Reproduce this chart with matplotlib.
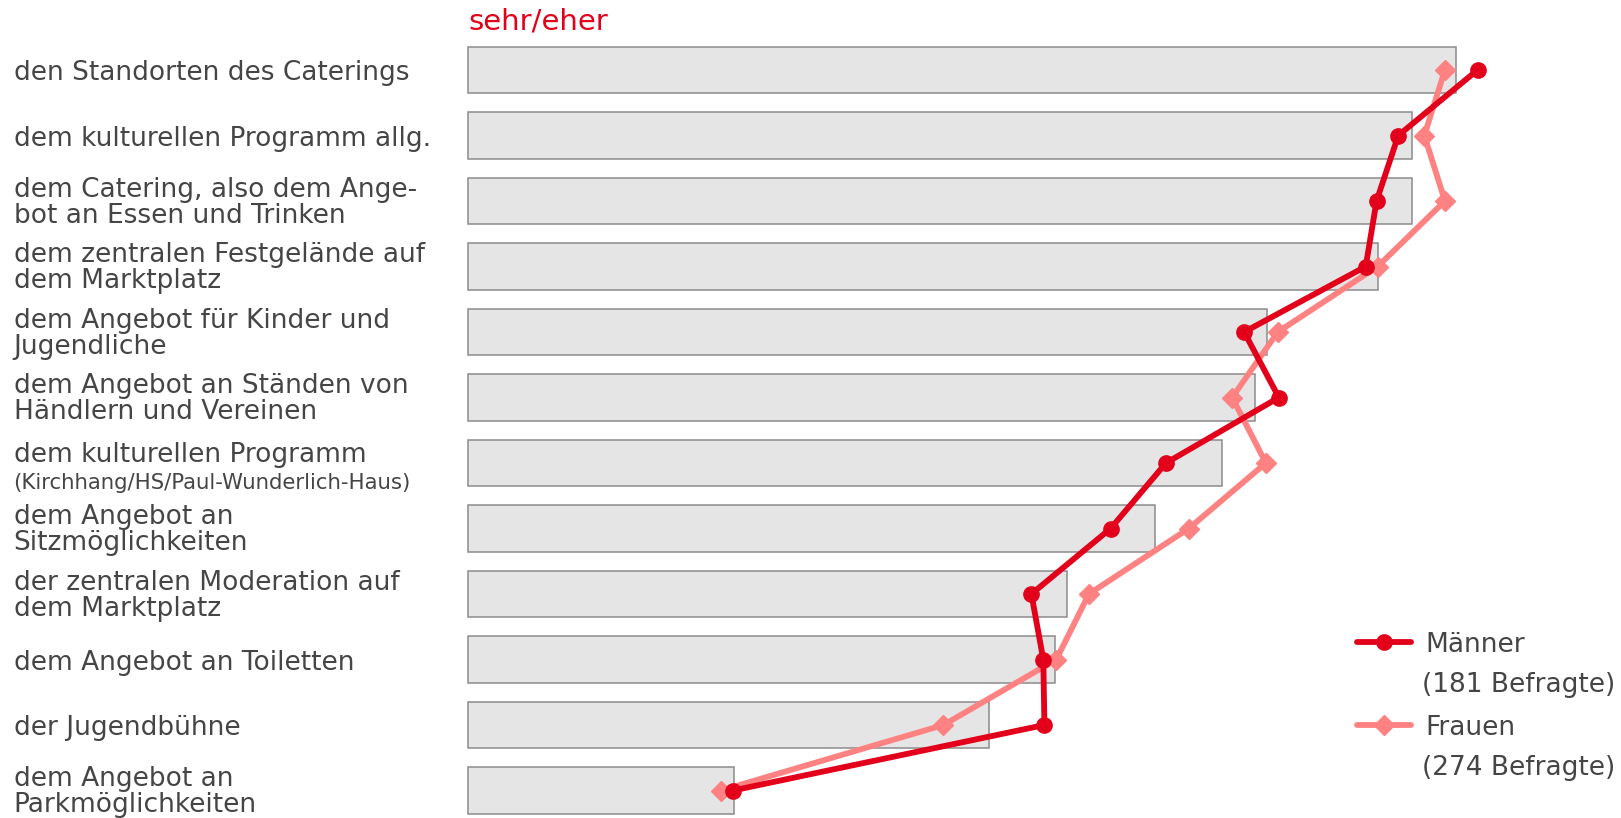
import matplotlib
matplotlib.use("Agg")
import matplotlib.pyplot as plt
from matplotlib.lines import Line2D
import matplotlib.transforms as mtransforms

categories = [
    "den Standorten des Caterings",
    "dem kulturellen Programm allg.",
    "dem Catering, also dem Ange-\nbot an Essen und Trinken",
    "dem zentralen Festgelände auf\ndem Marktplatz",
    "dem Angebot für Kinder und\nJugendliche",
    "dem Angebot an Ständen von\nHändlern und Vereinen",
    "dem kulturellen Programm",
    "dem Angebot an\nSitzmöglichkeiten",
    "der zentralen Moderation auf\ndem Marktplatz",
    "dem Angebot an Toiletten",
    "der Jugendbühne",
    "dem Angebot an\nParkmöglichkeiten",
]
sub_label = "(Kirchhang/HS/Paul-Wunderlich-Haus)"
sub_label_row = 6

total = [91.0, 87.0, 87.0, 83.8, 73.6, 72.5, 69.5, 63.3, 55.2, 54.1, 48.0, 24.5]
maenner = [93.0, 85.7, 83.7, 82.7, 71.5, 74.7, 64.3, 59.2, 51.9, 53.0, 53.1, 24.4]
frauen = [90.0, 88.1, 90.0, 83.8, 74.6, 70.4, 73.5, 66.4, 57.2, 54.2, 43.8, 23.3]

legend_labels = ["Männer", "Frauen"]
legend_sub = ["(181 Befragte)", "(274 Befragte)"]
header = "sehr/eher"

RED = "#e2001a"
PINK = "#ff8282"
TXT = "#454545"
FS = 19

W, H = 1621, 818
fig = plt.figure(figsize=(W / 100, H / 100), dpi=100)
ax = fig.add_axes([0, 0, 1, 1])
px = 10.855  # pixels per unit
x0 = 468
ax.set_xlim(-x0 / px, (W - x0) / px)
row = 65.5
y0 = 70
ax.set_ylim((H - y0) / row, -y0 / row)
ax.axis("off")

n = len(categories)
ys = list(range(n))
ax.barh(ys, total, height=0.71, left=0, color="#e5e5e5", edgecolor="#8c8c8c", linewidth=1.1, zorder=1)

ax.plot(maenner, ys, color=RED, lw=4.2, marker="o", ms=11, zorder=3, solid_joinstyle="round")
ax.plot(frauen, ys, color=PINK, lw=4.2, marker="D", ms=10, zorder=2, solid_joinstyle="round")

trans = mtransforms.blended_transform_factory(fig.transFigure, ax.transData)
lx = 13.5 / W
for i, lab in enumerate(categories):
    if i == sub_label_row:
        ax.text(lx, i - 0.12, lab, transform=trans, fontsize=FS, color=TXT, va="center", ha="left")
        ax.text(lx, i + 0.30, sub_label, transform=trans, fontsize=15.3, color=TXT, va="center", ha="left")
    elif "\n" in lab:
        ax.text(lx, i + 0.025, lab, transform=trans, fontsize=FS, color=TXT, va="center", ha="left",
                linespacing=1.0)
    else:
        ax.text(lx, i + 0.05, lab, transform=trans, fontsize=FS, color=TXT, va="center", ha="left")

fig.text(x0 / W, 1 - 22 / H, header, fontsize=21, color=RED, va="center", ha="left")

# legend
leg_y = [642, 725]
leg_sub_y = [682, 765]
for lab, sub, yl, ys2, col, mk, ms in zip(legend_labels, legend_sub, leg_y, leg_sub_y,
                                          [RED, PINK], ["o", "D"], [11, 10]):
    fig.add_artist(Line2D([1357 / W, 1411 / W], [1 - yl / H, 1 - yl / H], color=col, lw=4.2,
                          solid_capstyle="round", transform=fig.transFigure))
    fig.add_artist(Line2D([1384 / W], [1 - yl / H], color=col, marker=mk, ms=ms,
                          transform=fig.transFigure))
    fig.text(1425 / W, 1 - (yl + 3) / H, lab, fontsize=FS, color=TXT, va="center", ha="left")
    fig.text(1422 / W, 1 - (ys2 + 3) / H, sub, fontsize=FS, color=TXT, va="center", ha="left")

fig.savefig("out.png", dpi=100)
